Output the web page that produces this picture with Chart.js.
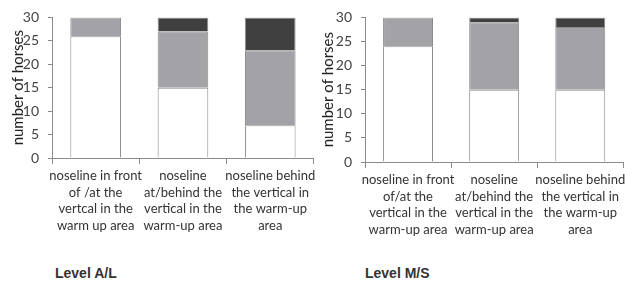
<!DOCTYPE html>
<html>
<head>
<meta charset="utf-8">
<script src="https://cdn.jsdelivr.net/npm/chart.js@4.4.1/dist/chart.umd.min.js"></script>
<style>
	html, body { margin: 0; padding: 0; background: #fff; overflow: hidden; }
	.box { position: absolute; top: 0; }
	.level { position: absolute; top: 265px; font: bold 14px "Liberation Sans", Arial, sans-serif; color: #333; }
</style>
</head>
<body>
<div class="box" style="left:0;width:320px;height:240px"><canvas id="chartAL"></canvas></div>
<div class="box" style="left:310px;width:320px;height:244px"><canvas id="chartMS"></canvas></div>
<div class="level" style="left:55px">Level A/L</div>
<div class="level" style="left:365px">Level M/S</div>
<script>
const labelsAL = [
	["noseline in front", "of /at the", "vertcal in the", "warm up area"],
	["noseline", "at/behind the", "vertical in the", "warm-up area"],
	["noseline behind", "the vertical in", "the warm-up", "area"]
];
const labelsMS = [
	["noseline in front", "of/at the", "vertical in the", "warm-up area"],
	["noseline", "at/behind the", "vertical in the", "warm-up area"],
	["noseline behind", "the vertical in", "the warm-up", "area"]
];

// white / grey / black segments, bottom to top
const whiteAL = [26, 15, 7];
const greyAL = [4, 12, 16];
const blackAL = [0, 3, 7];

const whiteMS = [24, 15, 15];
const greyMS = [6, 14, 13];
const blackMS = [0, 1, 2];

const yTicks = [0, 5, 10, 15, 20, 25, 30];

const fontFamily = "Lato, 'Open Sans', sans-serif";

function makeChart(id, labels, white, grey, black, axisWidth) {
	const ctx = document.getElementById(id).getContext("2d");
	const seg = (data, fill) => ({
		data: data,
		backgroundColor: fill,
		borderColor: "#8a8a8a",
		borderWidth: 1,
		barPercentage: 0.58,
		categoryPercentage: 1
	});
	return new Chart(ctx, {
		type: "bar",
		data: {
			labels: labels,
			datasets: [seg(white, "#ffffff"), seg(grey, "#a3a3a7"), seg(black, "#404040")]
		},
		options: {
			responsive: true,
			maintainAspectRatio: false,
			animation: false,
			layout: { padding: { top: 17, right: 5, left: 0, bottom: 0 } },
			plugins: { legend: { display: false }, tooltip: { enabled: false } },
			scales: {
				x: {
					stacked: true,
					afterFit: function (scale) { scale.height = 82; },
					grid: { offset: true, drawOnChartArea: false, tickLength: 6, color: "#8a8a8a" },
					border: { color: "#8a8a8a" },
					ticks: {
						maxRotation: 0,
						autoSkip: false,
						padding: 4,
						color: "#333",
						font: { family: fontFamily, size: 13, lineHeight: 1.27 }
					}
				},
				y: {
					stacked: true,
					min: 0,
					max: 30,
					afterFit: function (scale) { scale.width = axisWidth; },
					afterBuildTicks: function (scale) {
						scale.ticks = yTicks.map(v => ({ value: v }));
					},
					grid: { drawOnChartArea: false, tickLength: 4, color: "#8a8a8a" },
					border: { color: "#8a8a8a" },
					ticks: {
						padding: 9,
						color: "#444",
						font: { family: fontFamily, size: 14 }
					},
					title: {
						display: true,
						text: "number of horses",
						color: "#222",
						padding: { top: 9, bottom: 0 },
						font: { family: fontFamily, size: 15 }
					}
				}
			}
		}
	});
}

makeChart("chartAL", labelsAL, whiteAL, greyAL, blackAL, 52);
makeChart("chartMS", labelsMS, whiteMS, greyMS, blackMS, 55);
</script>
</body>
</html>
